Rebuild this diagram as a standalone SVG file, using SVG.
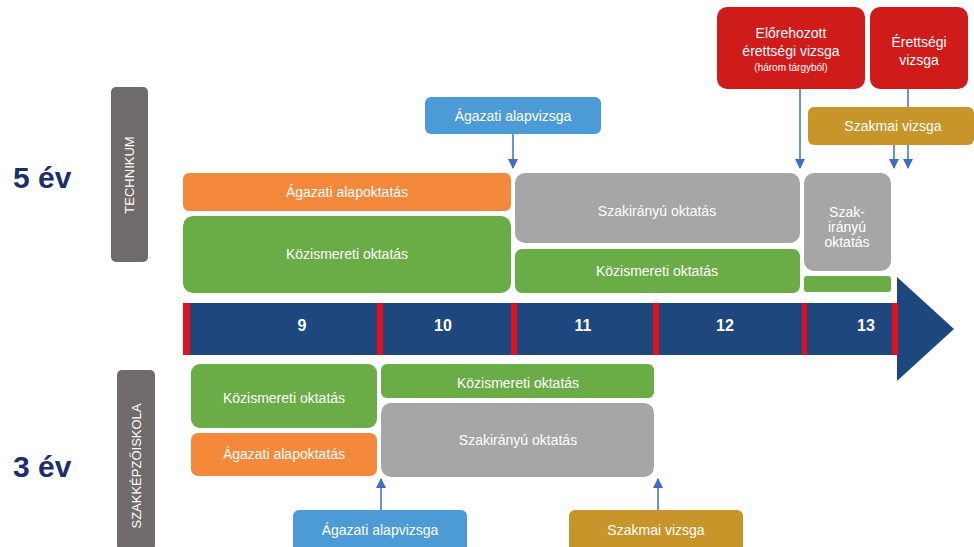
<svg xmlns="http://www.w3.org/2000/svg" width="974" height="547" viewBox="0 0 974 547">
<style>
.t{font-family:"Liberation Sans",Arial,sans-serif;font-size:14px;fill:#fff;text-anchor:middle;dominant-baseline:central}
.n{font-family:"Liberation Sans",Arial,sans-serif;font-size:16px;font-weight:bold;fill:#fff;text-anchor:middle;dominant-baseline:central}
.y{font-family:"Liberation Sans",Arial,sans-serif;font-size:30px;font-weight:bold;fill:#1b2f6b}
.v{font-family:"Liberation Sans",Arial,sans-serif;font-size:13px;fill:#fff;text-anchor:middle;dominant-baseline:central}
.or{fill:#f5893b}.gr{fill:#6aad47}.gy{fill:#a6a6a6}.dg{fill:#6f6b6b}.bl{fill:#4c9bd6}.rd{fill:#d01b1b}.gd{fill:#c8952a}
.sep{fill:#e3101c}
.c{stroke:#3d6fbf;stroke-width:1.5;fill:none;marker-end:url(#ah)}
</style>
<defs>
<marker id="ah" markerWidth="10" markerHeight="10" refX="9" refY="5" orient="auto" markerUnits="userSpaceOnUse" viewBox="0 0 10 10">
<path d="M0,0 L10,5 L0,10 Z" fill="#3d6fbf"/>
</marker>
</defs>
<rect width="974" height="547" fill="#fff"/>

<text class="y" x="13" y="188">5 év</text>
<text class="y" x="13" y="477">3 év</text>

<g id="connectors">
<line class="c" x1="513" y1="134" x2="513" y2="168"/>
<line class="c" x1="800" y1="89" x2="800" y2="168"/>
<line class="c" x1="908" y1="89" x2="908" y2="168"/>
<line class="c" x1="894" y1="145" x2="894" y2="168"/>
<line class="c" x1="381" y1="510" x2="381" y2="479"/>
<line class="c" x1="658" y1="510" x2="658" y2="479"/>
</g>

<g id="technikum"><rect class="dg" x="111" y="87" width="37" height="175" rx="5"/><text class="v" transform="translate(129.5,175) rotate(-90)">TECHNIKUM</text></g>
<g id="szakkepzo"><rect class="dg" x="117" y="370" width="38" height="180" rx="5"/><text class="v" transform="translate(136,466) rotate(-90)">SZAKKÉPZŐISKOLA</text></g>

<g id="timeline">
<rect x="183" y="303" width="715" height="52" fill="#1d477d"/>
<polygon points="897,277 954,329 897,381" fill="#1d477d"/>
<rect class="sep" x="183" y="303" width="7" height="52"/>
<rect class="sep" x="377" y="303" width="6" height="52"/>
<rect class="sep" x="511" y="303" width="6" height="52"/>
<rect class="sep" x="653" y="303" width="6" height="52"/>
<rect class="sep" x="802" y="303" width="5" height="52"/>
<rect class="sep" x="892" y="303" width="6" height="52"/>
<text class="n" x="302" y="325">9</text>
<text class="n" x="443" y="325">10</text>
<text class="n" x="583" y="325">11</text>
<text class="n" x="725" y="325">12</text>
<text class="n" x="866" y="325">13</text>
</g>

<g id="t-agazati-alapoktatas"><rect class="or" x="183" y="173" width="328" height="38" rx="6"/><text class="t" x="347" y="192">Ágazati alapoktatás</text></g>
<g id="t-kozismereti-1"><rect class="gr" x="183" y="216" width="328" height="77" rx="10"/><text class="t" x="347" y="254">Közismereti oktatás</text></g>
<g id="t-szakiranyu"><rect class="gy" x="515" y="173" width="285" height="70" rx="10"/><text class="t" x="657" y="211">Szakirányú oktatás</text></g>
<g id="t-kozismereti-2"><rect class="gr" x="515" y="249" width="285" height="44" rx="7"/><text class="t" x="657" y="271">Közismereti oktatás</text></g>
<g id="t-szakiranyu-13"><rect class="gy" x="804" y="173" width="87" height="98" rx="10"/><text class="t" x="847" y="212">Szak-</text><text class="t" x="847" y="227">irányú</text><text class="t" x="847" y="242">oktatás</text></g>
<g id="t-kozismereti-13"><rect class="gr" x="804" y="276" width="87" height="16" rx="3"/></g>

<g id="t-agazati-alapvizsga"><rect class="bl" x="425" y="97" width="176" height="37" rx="6"/><text class="t" x="513" y="116">Ágazati alapvizsga</text></g>
<g id="t-elorehozott"><rect class="rd" x="717" y="7" width="148" height="82" rx="10"/><text class="t" x="791" y="33">Előrehozott</text><text class="t" x="791" y="51">érettségi vizsga</text><text class="t" x="791" y="67" style="font-size:10px">(három tárgyból)</text></g>
<g id="t-erettsegi"><rect class="rd" x="870" y="7" width="98" height="82" rx="10"/><text class="t" x="919" y="42">Érettségi</text><text class="t" x="919" y="60">vizsga</text></g>
<g id="t-szakmai-vizsga"><rect class="gd" x="808" y="107" width="166" height="38" rx="6"/><text class="t" x="893" y="126">Szakmai vizsga</text></g>

<g id="s-kozismereti-1"><rect class="gr" x="191" y="364" width="186" height="64" rx="9"/><text class="t" x="284" y="398">Közismereti oktatás</text></g>
<g id="s-agazati-alapoktatas"><rect class="or" x="191" y="433" width="186" height="43" rx="7"/><text class="t" x="284" y="454">Ágazati alapoktatás</text></g>
<g id="s-kozismereti-2"><rect class="gr" x="381" y="364" width="273" height="34" rx="6"/><text class="t" x="518" y="383">Közismereti oktatás</text></g>
<g id="s-szakiranyu"><rect class="gy" x="381" y="403" width="273" height="74" rx="10"/><text class="t" x="518" y="440">Szakirányú oktatás</text></g>
<g id="s-agazati-alapvizsga"><rect class="bl" x="293" y="510" width="174" height="45" rx="6"/><text class="t" x="380" y="530">Ágazati alapvizsga</text></g>
<g id="s-szakmai-vizsga"><rect class="gd" x="569" y="510" width="174" height="45" rx="6"/><text class="t" x="656" y="530">Szakmai vizsga</text></g>
</svg>
